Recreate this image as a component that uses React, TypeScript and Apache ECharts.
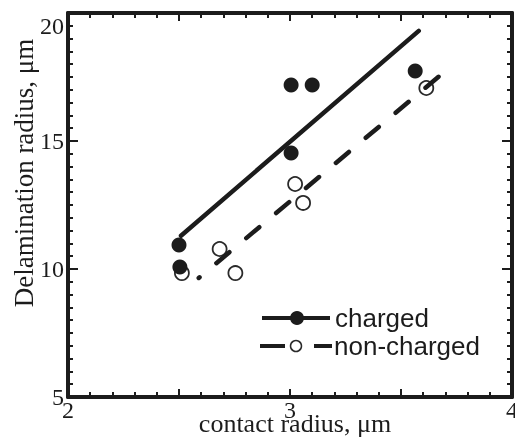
import React, { useEffect, useRef } from "react";
import * as echarts from "echarts";

const chargedX = [2.5, 2.504, 3.005, 3.1, 3.005, 3.564];
const chargedY = [10.94, 10.08, 17.19, 17.19, 14.53, 17.73];
const nonChargedX = [2.513, 2.683, 2.754, 3.023, 3.059, 3.614];
const nonChargedY = [9.84, 10.78, 9.84, 13.32, 12.58, 17.07];
const chargedFitX = [2.509, 3.58];
const chargedFitY = [11.3, 19.3];
const nonChargedFitX = [2.589, 3.705];
const nonChargedFitY = [9.65, 17.77];
const xLabels = [2, 3, 4];
const yLabels = [5, 10, 15, 20];

const INK = "#1c1c1c";
const SERIF = "'Liberation Serif', 'Times New Roman', serif";
const SANS = "'Liberation Sans', Arial, sans-serif";

function zip(xs: number[], ys: number[]) {
  return xs.map((x, i) => [x, ys[i]]);
}

function xAxisCfg(position: string, showLabel: boolean) {
  return {
    type: "value",
    position,
    min: 2,
    max: 4,
    interval: 0.5,
    z: 10,
    axisLine: { show: true, lineStyle: { color: INK, width: 4 } },
    axisTick: { show: true, inside: true, length: 8, lineStyle: { color: INK, width: 2 } },
    minorTick: { show: true, splitNumber: 5, length: 5, lineStyle: { color: INK, width: 2 } },
    splitLine: { show: false },
    axisLabel: {
      show: showLabel,
      margin: 1,
      color: INK,
      fontFamily: SERIF,
      fontSize: 24,
      formatter: (v: number) => (xLabels.includes(v) ? String(v) : ""),
    },
  };
}

function yAxisCfg(position: string, showLabel: boolean) {
  return {
    type: "value",
    position,
    min: 5,
    max: 20,
    interval: 5,
    z: 10,
    axisLine: { show: true, lineStyle: { color: INK, width: 4 } },
    axisTick: { show: true, inside: true, length: 10, lineStyle: { color: INK, width: 2 } },
    minorTick: { show: true, splitNumber: 10, length: 5, lineStyle: { color: INK, width: 2 } },
    splitLine: { show: false },
    axisLabel: {
      show: showLabel,
      margin: 4,
      color: INK,
      fontFamily: SERIF,
      fontSize: 24,
      formatter: (v: number) =>
        yLabels.includes(v) ? (v === 20 ? "{a|20}" : String(v)) : "",
      rich: {
        a: { padding: [26, 0, 0, 0], fontFamily: SERIF, fontSize: 24, color: INK },
      },
    },
  };
}

export default function App() {
  const ref = useRef<HTMLDivElement>(null);
  useEffect(() => {
    if (!ref.current) return;
    const chart = echarts.init(ref.current, undefined, { renderer: "svg" });
    chart.setOption({
      animation: false,
      grid: { left: 68, right: 3, top: 13, bottom: 41, containLabel: false, outerBoundsMode: "none" },
      xAxis: [xAxisCfg("bottom", true), xAxisCfg("top", false)],
      yAxis: [yAxisCfg("left", true), yAxisCfg("right", false)],
      series: [
        {
          type: "line",
          data: zip(chargedFitX, chargedFitY),
          symbol: "none",
          lineStyle: { color: INK, width: 4.5, cap: "round" },
        },
        {
          type: "line",
          data: zip(nonChargedFitX, nonChargedFitY),
          symbol: "none",
          lineStyle: { color: INK, width: 4.5, type: [17, 22], dashOffset: 16, cap: "round" },
        },
        {
          type: "scatter",
          data: zip(nonChargedX, nonChargedY),
          symbol: "circle",
          symbolSize: 14,
          itemStyle: { color: "#ffffff", borderColor: "#2a2a2a", borderWidth: 1.8, opacity: 1 },
        },
        {
          type: "scatter",
          data: zip(chargedX, chargedY),
          symbol: "circle",
          symbolSize: 15,
          itemStyle: { color: INK, opacity: 1 },
        },
      ],
      graphic: [
        {
          type: "text",
          x: 24,
          y: 173,
          rotation: Math.PI / 2,
          style: {
            text: "Delamination radius, μm",
            font: `27px ${SERIF}`,
            fill: INK,
            align: "center",
            verticalAlign: "middle",
          },
        },
        {
          type: "text",
          x: 295,
          y: 423,
          style: {
            text: "contact radius, μm",
            font: `26px ${SERIF}`,
            fill: INK,
            align: "center",
            verticalAlign: "middle",
          },
        },
        { type: "line", shape: { x1: 262, y1: 318, x2: 330, y2: 318 }, style: { stroke: INK, lineWidth: 4 } },
        { type: "circle", shape: { cx: 297, cy: 318, r: 7 }, style: { fill: INK } },
        {
          type: "text",
          x: 335,
          y: 318,
          style: { text: "charged", font: `26px ${SANS}`, fill: INK, verticalAlign: "middle" },
        },
        { type: "line", shape: { x1: 260, y1: 346, x2: 285, y2: 346 }, style: { stroke: INK, lineWidth: 4 } },
        { type: "line", shape: { x1: 314, y1: 346, x2: 332, y2: 346 }, style: { stroke: INK, lineWidth: 4 } },
        {
          type: "circle",
          shape: { cx: 296, cy: 346, r: 5.5 },
          style: { fill: "#ffffff", stroke: "#2a2a2a", lineWidth: 1.5 },
        },
        {
          type: "text",
          x: 334,
          y: 346,
          style: { text: "non-charged", font: `26px ${SANS}`, fill: INK, verticalAlign: "middle" },
        },
      ],
    });
    return () => chart.dispose();
  }, []);
  return <div ref={ref} style={{ position: "fixed", left: 0, top: 0, width: 515, height: 438 }} />;
}
